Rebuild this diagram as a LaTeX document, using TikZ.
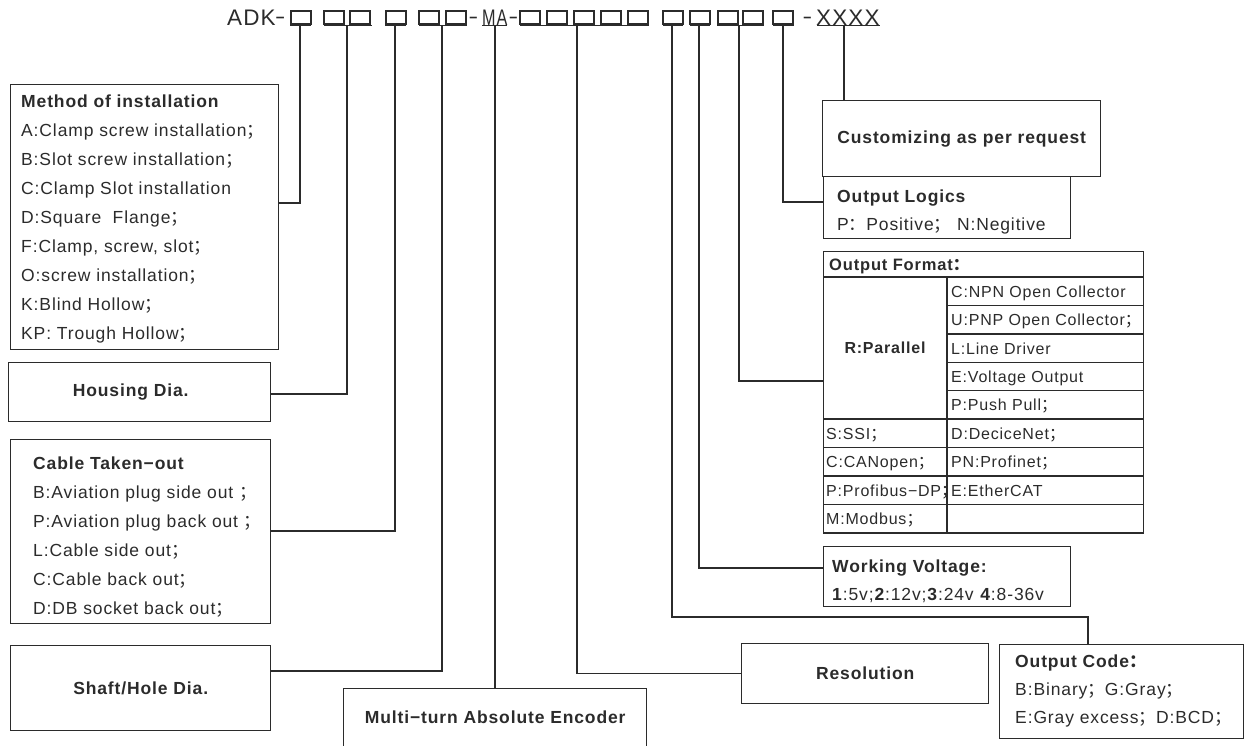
\documentclass[tikz,border=0pt]{standalone}
\usepackage{fontspec}
\setmainfont[LetterSpace=5]{Liberation Sans}
\newfontfamily\cjkfont{Noto Sans CJK SC}
\usetikzlibrary{positioning}

\newcommand{\fsemi}{{\cjkfont ；}}
\newcommand{\fcolon}{{\cjkfont ：}}
\definecolor{ink}{HTML}{2B2B2B}

\tikzset{
  infobox/.style={draw=ink, line width=1.4pt, inner sep=0pt, anchor=north west, text=ink,
    font=\bfseries\fontsize{17.5}{21}\selectfont},
  leader/.style={draw=ink, line width=1.4pt},
  slotbox/.style={draw=ink, line width=1.1pt},
  uline/.style={draw=ink, line width=1.6pt},
  boxtext/.style={inner sep=0pt, align=left, text=ink, font=\fontsize{17.5}{29}\selectfont},
  tabtext/.style={inner sep=0pt, anchor=base west, text=ink, font=\fontsize{16}{19}\selectfont},
  codetext/.style={inner sep=0pt, anchor=base west, text=ink, font=\fontsize{22.5}{26}\selectfont},
}

\begin{document}
\begin{tikzpicture}[x=1pt, y=-1pt]
\useasboundingbox (0,0) rectangle (1255,746);

% order code line
\node (adk)[codetext] at (227,26) {ADK\scalebox{.7}[1]{−}};
\node (dasha)[codetext] at (469,26) {\scalebox{.65}[1]{−}};
\node (ma)[codetext] at (482,26) {\scalebox{.72}[1]{MA}};
\node (dashb)[codetext] at (509,26) {\scalebox{.65}[1]{−}};
\node (dashc)[codetext] at (803,26) {\scalebox{.65}[1]{−}};
\node (xxxx)[codetext] at (816,26) {XXXX};
\foreach \x in {291,324,350,386,419,446,520,547,574,601,628,663,690,718,743,773}
  \draw[slotbox] (\x,11) rectangle ++(20,13);
\foreach \a/\b in {290/311,324/372,385/406,419/467,482/507,520/649,663/683,690/710,717/764,773/794,817/880}
  \draw[uline] (\a,25.5) -- (\b,25.5);
\foreach \n/\x in {s1/300,s2/347,s3/395,s4/442,s5/495,s6/577,s7/672,s8/699,s9/739,s10/783,s11/844}
  \coordinate (\n) at (\x,25.5);

% left side
\node (method)[infobox, minimum width=268pt, minimum height=265pt] at (10,84) {};
\node (methodtxt)[boxtext, below right=10.5pt and 11pt of method.north west]
  {\textbf{Method of installation}\\A:Clamp screw installation\fsemi\\B:Slot screw installation\fsemi\\
   C:Clamp Slot installation\\D:Square\ \ Flange\fsemi\\F:Clamp, screw, slot\fsemi\\
   O:screw installation\fsemi\\K:Blind Hollow\fsemi\\KP: Trough Hollow\fsemi};
\node (housing)[infobox, minimum width=262pt, minimum height=59pt] at (8,362) {Housing Dia.\hspace*{18pt}};
\node (cable)[infobox, minimum width=260pt, minimum height=184pt] at (10,439) {};
\node (cabletxt)[boxtext, below right=18pt and 23pt of cable.north west]
  {\textbf{Cable Taken−out}\\B:Aviation plug side out \fsemi\\P:Aviation plug back out \fsemi\\
   L:Cable side out\fsemi\\C:Cable back out\fsemi\\D:DB socket back out\fsemi};
\node (shaft)[infobox, minimum width=260pt, minimum height=85pt] at (10,645) {Shaft/Hole Dia.};
\node (multi)[infobox, minimum width=303pt, minimum height=58pt] at (343,688) {Multi−turn Absolute Encoder};

% right side
\node (custom)[infobox, minimum width=278pt, minimum height=76pt] at (822,100) {Customizing as per request};
\node (logic)[infobox, minimum width=247pt, minimum height=62pt] at (823,176) {};
\node (logictxt)[boxtext, font=\fontsize{17.5}{28}\selectfont, below right=14pt and 14pt of logic.north west]
  {\textbf{Output Logics}\\P\fcolon Positive\fsemi\ N:Negitive};
\node (format)[infobox, minimum width=320pt, minimum height=282pt] at (823,251) {};
\draw[leader] (823,277) -- (1143,277);
\draw[leader] (947,277) -- (947,533);
\foreach \i in {1,...,4} \draw[leader] (947,{277+28.4*\i}) -- (1143,{277+28.4*\i});
\foreach \i in {5,...,9} \draw[leader] (823,{277+28.4*\i}) -- (1143,{277+28.4*\i});
\node (fhead)[tabtext, font=\bfseries\fontsize{16.5}{19}\selectfont] at (829,270) {Output Format\fcolon};
\node (fpar)[tabtext, anchor=center, font=\bfseries\fontsize{16}{19}\selectfont] at (885,348) {R:Parallel};
\foreach \t [count=\i] in {C:NPN\ Open\ Collector, U:PNP Open\ Collector\fsemi, L:Line Driver,
    E:Voltage Output, P:Push\ Pull\fsemi, D:DeciceNet\fsemi, PN:Profinet\fsemi, E:EtherCAT}
  \node (fr\i)[tabtext] at (951,{277+28.4*(\i-0.5)+6}) {\t};
\foreach \t [count=\i] in {S:SSI\fsemi, C:CANopen\fsemi, P:Profibus−DP\fsemi, M:Modbus\fsemi}
  \node (fl\i)[tabtext] at (826,{419+28.4*(\i-0.5)+6}) {\t};
\node (volt)[infobox, minimum width=247pt, minimum height=60pt] at (823,546) {};
\node (volttxt)[boxtext, font=\fontsize{17.5}{28}\selectfont, below right=14pt and 9pt of volt.north west]
  {\textbf{Working Voltage:}\\\textbf{1}:5v;\textbf{2}:12v;\textbf{3}:24v \textbf{4}:8-36v};
\node (resol)[infobox, minimum width=247pt, minimum height=60pt] at (741,643) {Resolution};
\node (outcode)[infobox, minimum width=244pt, minimum height=94pt] at (999,644) {};
\node (outcodetxt)[boxtext, font=\fontsize{17.5}{28}\selectfont, below right=11pt and 16pt of outcode.north west]
  {\textbf{Output Code\fcolon}\\B:Binary\fsemi G:Gray\fsemi\\E:Gray excess\fsemi D:BCD\fsemi};

% leaders
\draw[leader] (s1) |- (method.east |- 0,203);
\draw[leader] (s2) |- (housing.east |- 0,394);
\draw[leader] (s3) |- (cable.east |- 0,531);
\draw[leader] (s4) |- (shaft.east |- 0,671);
\draw[leader] (s5) -- (s5 |- multi.north);
\draw[leader] (s6) |- (resol.west);
\draw[leader] (s7) |- (1088,617) -- (1088,0 |- outcode.north);
\draw[leader] (s8) |- (volt.west |- 0,568);
\draw[leader] (s9) |- (format.west |- 0,381);
\draw[leader] (s10) |- (logic.west |- 0,202);
\draw[leader] (s11) -- (s11 |- custom.north);
\end{tikzpicture}
\end{document}
